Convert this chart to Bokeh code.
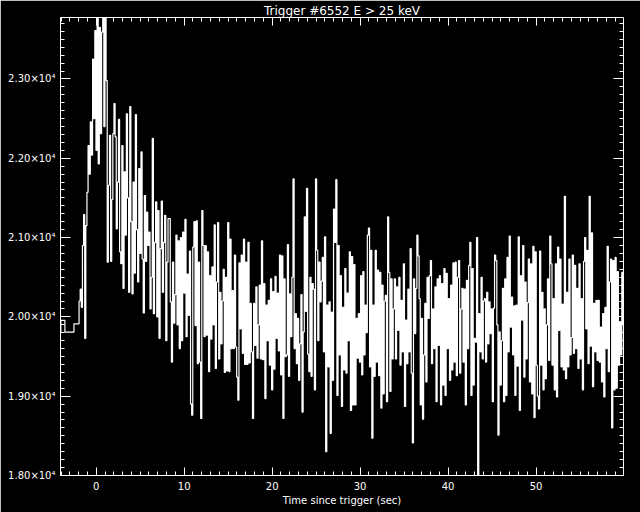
from bokeh.plotting import figure
from bokeh.models import Range1d, LinearAxis, FixedTicker, CustomJSTickFormatter
from bokeh.embed import file_html
from bokeh.resources import INLINE

title_text = "Trigger #6552 E > 25 keV"
x_label = "Time since trigger (sec)"
x_tick_values = [0, 10, 20, 30, 40, 50]
x_minor_values = list(range(-4, 60))
y_tick_values = [18000, 19000, 20000, 21000, 22000, 23000]
y_minor_values = list(range(18000, 23800, 100))
y_tick_labels = ["1.80×10⁴", "1.90×10⁴", "2.00×10⁴", "2.10×10⁴", "2.20×10⁴", "2.30×10⁴"]

# pre-trigger (1.024 s) bins
pre_edges = [-5.1, -4.02, -3.56, -2.53, -1.95]
pre_rates = [19807, 19955, 19807, 19913]

# post (fine) bins
fine_start = -1.95
fine_width = 0.128
rates = [
    20200, 20350, 20120, 20900, 21290, 19730, 21150, 21570,
    22160, 21800, 22460, 22040, 23250, 22500, 23610, 22100,
    23900, 21930, 23650, 22310, 23590, 23900, 22400, 23850,
    22980, 20690, 21660, 22290, 20700, 21480, 22310, 22690,
    22270, 21110, 21700, 22490, 20820, 20670, 22160, 20360,
    21830, 21030, 22560, 21500, 20310, 22650, 21200, 20290,
    21700, 20550, 22550, 21100, 20440, 21870, 20800, 22080,
    20730, 20050, 21530, 20700, 21320, 20900, 21070, 20100,
    20500, 22250, 20040, 20940, 21450, 20000, 21340, 19730,
    20860, 21460, 20310, 20940, 21280, 19700, 20690, 21240,
    21240, 20190, 19430, 20690, 19920, 20280, 21030, 19900,
    20960, 19600, 21000, 19700, 21070, 20300, 21230, 19750,
    20540, 20020, 20830, 18900, 18760, 20880, 21200, 19890,
    21210, 19410, 20690, 19430, 18720, 21340, 20900, 19750,
    20900, 19770, 20820, 19310, 20520, 19720, 20630, 19900,
    21160, 19350, 20440, 21190, 19470, 20310, 19660, 20200,
    20600, 19300, 20500, 19320, 21190, 19310, 20980, 19600,
    20330, 19600, 20780, 19620, 19240, 18950, 20680, 19850,
    20780, 19540, 20980, 19400, 20690, 19400, 20940, 19420,
    20170, 19560, 18720, 20170, 19640, 20380, 19480, 19900,
    20400, 19470, 20960, 19460, 20420, 18970, 20150, 19700,
    20210, 19390, 20480, 19080, 20320, 19340, 20510, 19730,
    20300, 19570, 20780, 19270, 20770, 18720, 20480, 19500,
    19520, 20910, 19250, 20290, 19750, 20500, 21740, 19600,
    20040, 19410, 19980, 19200, 19660, 20280, 18800, 19810,
    21260, 20070, 21620, 19530, 19310, 20500, 19250, 20420,
    20350, 19080, 21740, 20840, 19700, 20690, 20190, 20450,
    20750, 19560, 21010, 18300, 20150, 19370, 20190, 18530,
    20060, 19200, 21360, 20940, 21730, 19010, 20900, 19520,
    20520, 18870, 20120, 19330, 20610, 19290, 20300, 19700,
    20820, 18820, 20760, 18890, 20660, 18890, 19980, 19480,
    20040, 19430, 20520, 19270, 20570, 19520, 20150, 19800,
    21030, 21120, 19370, 20840, 18470, 20150, 19250, 20840,
    19430, 20590, 19260, 20560, 18850, 20400, 19030, 20200,
    20270, 18930, 21260, 20560, 19060, 20480, 19470, 20100,
    20480, 19470, 20380, 19830, 20500, 19390, 20210, 19560,
    20670, 18870, 19960, 19410, 20350, 19560, 20860, 19290,
    18410, 20480, 19790, 20360, 21030, 20770, 20230, 18890,
    19980, 18710, 19520, 20170, 19180, 20500, 19980, 20520,
    20710, 19410, 20100, 19600, 20380, 18930, 20480, 19640,
    20520, 18890, 20420, 19140, 20610, 19010, 20550, 19600,
    20230, 19200, 20400, 19330, 20680, 19430, 20690, 19260,
    20500, 20710, 19290, 20100, 20360, 19430, 20350, 18890,
    20460, 19600, 20650, 20940, 19010, 20610, 19140, 19730,
    19680, 21000, 17900, 20040, 19560, 20500, 19470, 20200,
    20230, 19430, 20310, 19660, 20190, 19790, 20100, 18930,
    20110, 20780, 20710, 19900, 18510, 19810, 19140, 19700,
    20360, 18930, 20480, 19010, 20750, 19560, 21020, 19870,
    20250, 19520, 20140, 19010, 20150, 19380, 21010, 18820,
    20520, 19960, 20900, 19240, 20440, 19470, 20180, 20730,
    19180, 20670, 19030, 20890, 18730, 20820, 19390, 19000,
    18840, 20830, 19390, 20310, 19080, 20100, 19220, 19900,
    20480, 19450, 21020, 20670, 19390, 20230, 19080, 20670,
    18990, 20880, 19830, 20730, 19370, 20160, 19330, 21520,
    19220, 20310, 19370, 20730, 19520, 19740, 20780, 19540,
    20650, 19600, 20360, 19350, 20670, 19470, 20230, 19080,
    20700, 21000, 19850, 20840, 19410, 21520, 19630, 21060,
    19120, 20170, 19560, 20210, 19450, 20210, 19430, 19870,
    19180, 20040, 18990, 20120, 19600, 20890, 19310, 20440,
    20730, 18600, 20710, 19080, 20750, 19100, 20570, 19390,
    19940, 19520, 20560, 19900,
]

edges = pre_edges[:-1] + [fine_start + i * fine_width for i in range(len(rates) + 1)]
vals = pre_rates + rates
xs = edges
ys = vals + [vals[-1]]

FONT = "DejaVu Sans"

p = figure(width=640, height=512,
           x_range=Range1d(-4.06, 59.94), y_range=Range1d(18000, 23775),
           output_backend="svg", toolbar_location=None,
           background_fill_color="black", border_fill_color="black",
           outline_line_color=None,
           min_border_left=60, min_border_right=17,
           min_border_top=17, min_border_bottom=37)
p.grid.visible = False

p.title.text = title_text
p.title.align = "center"
p.title.text_color = "white"
p.title.text_font = FONT
p.title.text_font_size = "12px"
p.title.text_font_style = "normal"
p.title.standoff = 0
p.title.offset = 0

p.step(xs, ys, mode="after", line_color="white", line_width=1.2)

def style_axis(ax, major_in, minor_in):
    ax.axis_line_color = "white"
    ax.major_tick_line_color = "white"
    ax.minor_tick_line_color = "white"
    ax.major_tick_in = major_in
    ax.major_tick_out = 0
    ax.minor_tick_in = minor_in
    ax.minor_tick_out = 0
    ax.major_label_text_color = "white"
    ax.major_label_text_font = FONT
    ax.axis_label_text_color = "white"
    ax.axis_label_text_font = FONT
    ax.axis_label_text_font_style = "normal"

xt = FixedTicker(ticks=x_tick_values, minor_ticks=x_minor_values)
yt = FixedTicker(ticks=y_tick_values, minor_ticks=y_minor_values)

xa = p.xaxis[0]
xa.ticker = xt
style_axis(xa, 8, 4)
xa.major_label_text_font_size = "10px"
xa.major_label_standoff = 6
xa.axis_label = x_label
xa.axis_label_text_font_size = "10px"
xa.axis_label_standoff = 2

ya = p.yaxis[0]
ya.ticker = yt
style_axis(ya, 10, 4)
ya.major_label_text_font_size = "10px"
ya.major_label_standoff = 5
ya.major_label_overrides = {v: s for v, s in zip(y_tick_values, y_tick_labels)}

top = LinearAxis(ticker=FixedTicker(ticks=x_tick_values, minor_ticks=x_minor_values),
                 formatter=CustomJSTickFormatter(code="return ''"))
style_axis(top, 8, 4)
top.major_label_text_font_size = "1px"
top.major_label_standoff = 0
p.add_layout(top, "above")

right = LinearAxis(ticker=FixedTicker(ticks=y_tick_values, minor_ticks=y_minor_values),
                   formatter=CustomJSTickFormatter(code="return ''"))
style_axis(right, 10, 4)
right.major_label_text_font_size = "1px"
right.major_label_standoff = 0
p.add_layout(right, "right")

open("out.html", "w").write(file_html(p, INLINE))
